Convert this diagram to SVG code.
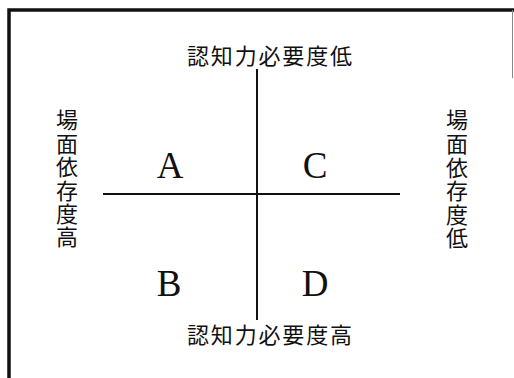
<svg xmlns="http://www.w3.org/2000/svg" width="514" height="378" viewBox="0 0 514 378">
<style>
.cjk{font-family:"Noto Sans CJK JP","Noto Sans CJK SC",sans-serif;font-size:22px;fill:#111;}
.let{font-family:"Liberation Serif",serif;font-size:37px;fill:#111;text-anchor:middle;}
.ax{stroke:#111;stroke-width:2;fill:none;}
</style>
<rect width="514" height="378" fill="#fff"/>
<g id="frame">
<path d="M9,378 V10 H514" fill="none" stroke="#111" stroke-width="3.5"/>
<line x1="512.5" y1="10" x2="512.5" y2="78" stroke="#888" stroke-width="1"/>
</g>
<g id="connectors">
<line class="ax" x1="257" y1="69" x2="257" y2="320"/>
<line class="ax" x1="103" y1="194" x2="400" y2="194"/>
</g>
<g id="top-label"><text class="cjk" x="187" y="64" textLength="165" lengthAdjust="spacing">認知力必要度低</text></g>
<g id="bottom-label"><text class="cjk" x="187" y="343" textLength="165" lengthAdjust="spacing">認知力必要度高</text></g>
<g id="left-label"><text class="cjk" x="67" y="109" style="writing-mode:vertical-rl;text-anchor:start" textLength="139" lengthAdjust="spacing">場面依存度高</text></g>
<g id="right-label"><text class="cjk" x="457" y="109" style="writing-mode:vertical-rl;text-anchor:start" textLength="140" lengthAdjust="spacing">場面依存度低</text></g>
<g id="A"><text class="let" x="170" y="178">A</text></g>
<g id="C"><text class="let" x="315" y="178">C</text></g>
<g id="B"><text class="let" x="169" y="296">B</text></g>
<g id="D"><text class="let" x="315" y="296">D</text></g>
</svg>
